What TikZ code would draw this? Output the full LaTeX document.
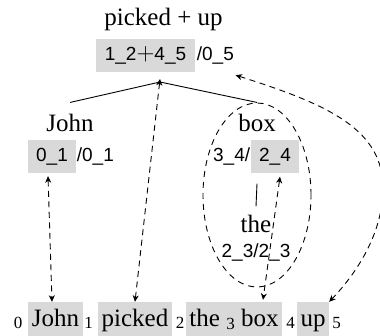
\documentclass[tikz,border=0pt]{standalone}
\usepackage{fontspec}
\setmainfont{Liberation Serif}
\newfontfamily\labelfont{Liberation Sans}
\usetikzlibrary{arrows.meta,shapes.geometric}
\definecolor{boxgray}{RGB}{217,217,217}
\newcommand{\bigplus}{{\fontsize{24}{24}\selectfont$+$}}
\begin{document}
\begin{tikzpicture}[x=1pt,y=-1pt,
  word/.style={inner sep=2pt, font=\fontsize{25}{30}\selectfont},
  idx/.style={inner sep=0pt, font=\fontsize{17}{20}\selectfont},
  wordbox/.style={word, fill=boxgray, inner xsep=3.5pt, inner ysep=4pt, text height=21pt, text depth=10pt},
  lbl/.style={inner sep=0pt, font=\labelfont\fontsize{19}{22}\selectfont, text height=14pt, text depth=4pt},
  lblbox/.style={lbl, fill=boxgray, inner ysep=7.5pt, inner xsep=8pt},
  tree/.style={line width=0.9pt},
  tip/.tip={Stealth[length=6.5pt,width=6pt,inset=2pt]},
  link/.style={line width=0.9pt, dash pattern=on 6pt off 4.5pt, tip-tip},
  group/.style={draw, dash pattern=on 6pt off 5pt, line width=0.9pt, ellipse, inner sep=0pt}
]
\useasboundingbox (0,0) rectangle (380,336);

% root of the derivation
\node[word, anchor=base] (title) at (163.5,26) {picked + up};
\node[lblbox, minimum width=99pt] (top12) at (145.5,56) {1\_2\bigplus4\_5};
\node[lbl, anchor=west, inner xsep=1.5pt] (top05) at (top12.east) {/0\_5};
\coordinate (apex) at (160,82);

% daughters
\node[word, anchor=base] (john) at (70,132) {John};
\node[word, anchor=base] (box) at (257,132) {box};
\node[lblbox, minimum width=48pt] (l01) at (52,156.5) {0\_1};
\node[lbl, anchor=west, inner xsep=0.5pt] (l01b) at (l01.east) {/0\_1};
\node[lblbox, minimum width=48pt] (l24) at (275,157) {2\_4};
\node[lbl, anchor=east, inner xsep=0.5pt] (l34) at (l24.west) {3\_4/};

\node[word, anchor=base] (the) at (256,233) {the};
\node[lbl, anchor=base] (l23) at (256,258) {2\_3/2\_3};

% dashed grouping of the object phrase
\node[group, minimum width=108pt, minimum height=184pt] (grp) at (257,195) {};

% tree edges
\draw[tree] ([yshift=10pt]john.north) -- (apex) -- ([yshift=10pt]box.north);
\draw[tree] (box.south |- l24.south) ++(0,10) -- ([yshift=7pt]the.north);

% the input string with positions
\node[idx, anchor=base] (i0) at (18,329) {0};
\node[wordbox, anchor=base] (wJohn) at (55.5,327) {John};
\node[idx, anchor=base] (i1) at (88.5,329) {1};
\node[wordbox, anchor=base] (wpicked) at (135,327) {picked};
\node[idx, anchor=base] (i2) at (180,329) {2};
\node[wordbox, anchor=base] (wthebox) at (234,327) {the \raisebox{-2pt}{\fontsize{17}{20}\selectfont 3} box};
\node[idx, anchor=base] (i4) at (290.5,329) {4};
\node[wordbox, anchor=base] (wup) at (313,327) {up};
\node[idx, anchor=base] (i5) at (336.5,329) {5};

% links between spans and words
\coordinate (upTop) at ([yshift=-10pt]top05.south east);
\draw[link] ([xshift=-4pt,yshift=-3pt]l01.south) -- ([xshift=-3.5pt]wJohn.north);
\draw[link] ([yshift=3pt]apex) -- (wpicked.north);
\draw[link] ([xshift=5pt,yshift=-3pt]l24.south) -- ([xshift=29pt,yshift=2pt]wthebox.north);
\draw[link] (upTop) .. controls (330,105) and (384,130) .. (383,190)
  .. controls (382,240) and (350,280) .. (wup.north east);
\end{tikzpicture}
\end{document}
